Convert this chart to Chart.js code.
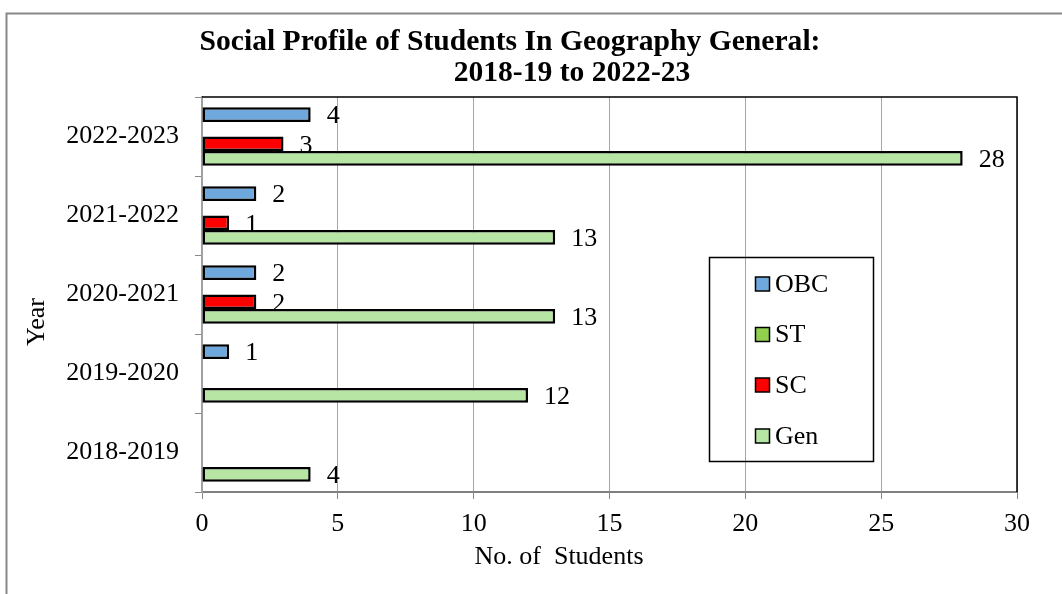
<!DOCTYPE html>
<html>
<head>
<meta charset="utf-8">
<script src="https://cdn.jsdelivr.net/npm/chart.js@4/dist/chart.umd.min.js"></script>
<style>
  html, body { margin: 0; padding: 0; background: #fff; }
  #wrap { width: 1062px; height: 594px; position: relative; }
</style>
</head>
<body>
<div id="wrap"><canvas id="c" width="1062" height="594"></canvas></div>
<script>
// Data (categories listed top to bottom as in the chart)
const categories = ['2022-2023', '2021-2022', '2020-2021', '2019-2020', '2018-2019'];
const seriesNames = ['OBC', 'ST', 'SC', 'Gen'];
const obcValues = [4, 2, 2, 1, 0];
const stValues  = [0, 0, 0, 0, 0];
const scValues  = [3, 1, 2, 0, 0];
const genValues = [28, 13, 13, 12, 4];
const xMin = 0, xMax = 30, xStep = 5;
const titleLines = ['Social Profile of Students In Geography General:', '2018-19 to 2022-23'];
const xTitle = 'No. of  Students';
const yTitle = 'Year';

const colors = ['#6fa8dc', '#92d050', '#ff0000', '#b6e5a4'];
const FONT = '"Liberation Serif", "Times New Roman", serif';

const decor = {
  id: 'decor',
  beforeDraw(chart) {
    const ctx = chart.ctx;
    ctx.save();
    ctx.fillStyle = '#fff';
    ctx.fillRect(0, 0, chart.width, chart.height);
    ctx.strokeStyle = '#888';
    ctx.lineWidth = 2;
    ctx.beginPath();
    ctx.moveTo(6.5, chart.height);
    ctx.lineTo(6.5, 13.5);
    ctx.lineTo(chart.width, 13.5);
    ctx.stroke();
    ctx.restore();
  },
  afterDraw(chart) {
    const ctx = chart.ctx;
    const a = chart.chartArea;
    ctx.save();
    // top and right plot border
    ctx.strokeStyle = '#000';
    ctx.lineWidth = 1.5;
    ctx.beginPath();
    ctx.moveTo(a.left, a.top);
    ctx.lineTo(a.right, a.top);
    ctx.lineTo(a.right, a.bottom);
    ctx.stroke();

    // title
    ctx.fillStyle = '#000';
    ctx.textAlign = 'center';
    ctx.textBaseline = 'middle';
    ctx.font = 'bold 29.6px ' + FONT;
    ctx.fillText(titleLines[0], 510, 42);
    ctx.fillText(titleLines[1], 572, 73);

    // axis titles
    ctx.font = '26px ' + FONT;
    ctx.fillText(xTitle, 559, 557);
    ctx.save();
    ctx.translate(37, 322);
    ctx.rotate(-Math.PI / 2);
    ctx.fillText(yTitle, 0, 0);
    ctx.restore();

    // data labels
    ctx.textAlign = 'left';
    ctx.font = '26px ' + FONT;
    chart.data.datasets.forEach((ds, di) => {
      const meta = chart.getDatasetMeta(di);
      meta.data.forEach((bar, i) => {
        const v = ds.data[i];
        if (v > 0) ctx.fillText(String(v), bar.x + 16, bar.y + 2);
      });
    });

    // legend (transparent box)
    ctx.strokeStyle = '#000';
    ctx.lineWidth = 1.5;
    ctx.strokeRect(709.5, 257.5, 164, 204);
    const rowY = [284, 334.5, 385, 436];
    ctx.font = '26px ' + FONT;
    chart.data.datasets.forEach((ds, di) => {
      const y = rowY[di];
      ctx.fillStyle = ds.backgroundColor;
      ctx.fillRect(755.5, y - 7, 14, 14);
      ctx.strokeStyle = '#000';
      ctx.lineWidth = 1.5;
      ctx.strokeRect(755.5, y - 7, 14, 14);
      ctx.fillStyle = '#000';
      ctx.fillText(ds.label, 775, y + 1);
    });
    ctx.restore();
  }
};

const datasets = [obcValues, stValues, scValues, genValues].map((vals, i) => ({
  label: seriesNames[i],
  data: vals,
  backgroundColor: colors[i],
  borderColor: '#000',
  borderWidth: 2.5,
  borderSkipped: false,
  categoryPercentage: 0.74,
  barPercentage: 1.0
}));

new Chart(document.getElementById('c'), {
  type: 'bar',
  data: { labels: categories, datasets },
  plugins: [decor],
  options: {
    indexAxis: 'y',
    responsive: false,
    animation: false,
    events: [],
    layout: { padding: { top: 97, right: 45, left: 0, bottom: 0 } },
    plugins: { legend: { display: false }, title: { display: false }, tooltip: { enabled: false } },
    scales: {
      x: {
        min: xMin, max: xMax,
        ticks: { stepSize: xStep, color: '#000', font: { family: FONT, size: 26 }, padding: 10 },
        grid: { color: '#a6a6a6', lineWidth: 1, tickLength: 7, tickColor: '#888' },
        border: { color: '#808080', width: 2 },
        afterFit(scale) { scale.height = 102; }
      },
      y: {
        ticks: { color: '#000', font: { family: FONT, size: 26 }, padding: 16 },
        grid: { drawOnChartArea: false, tickLength: 7, color: '#888', lineWidth: 1 },
        border: { color: '#a0a0a0', width: 2 },
        afterFit(scale) { scale.width = 202; }
      }
    }
  }
});
</script>
</body>
</html>
